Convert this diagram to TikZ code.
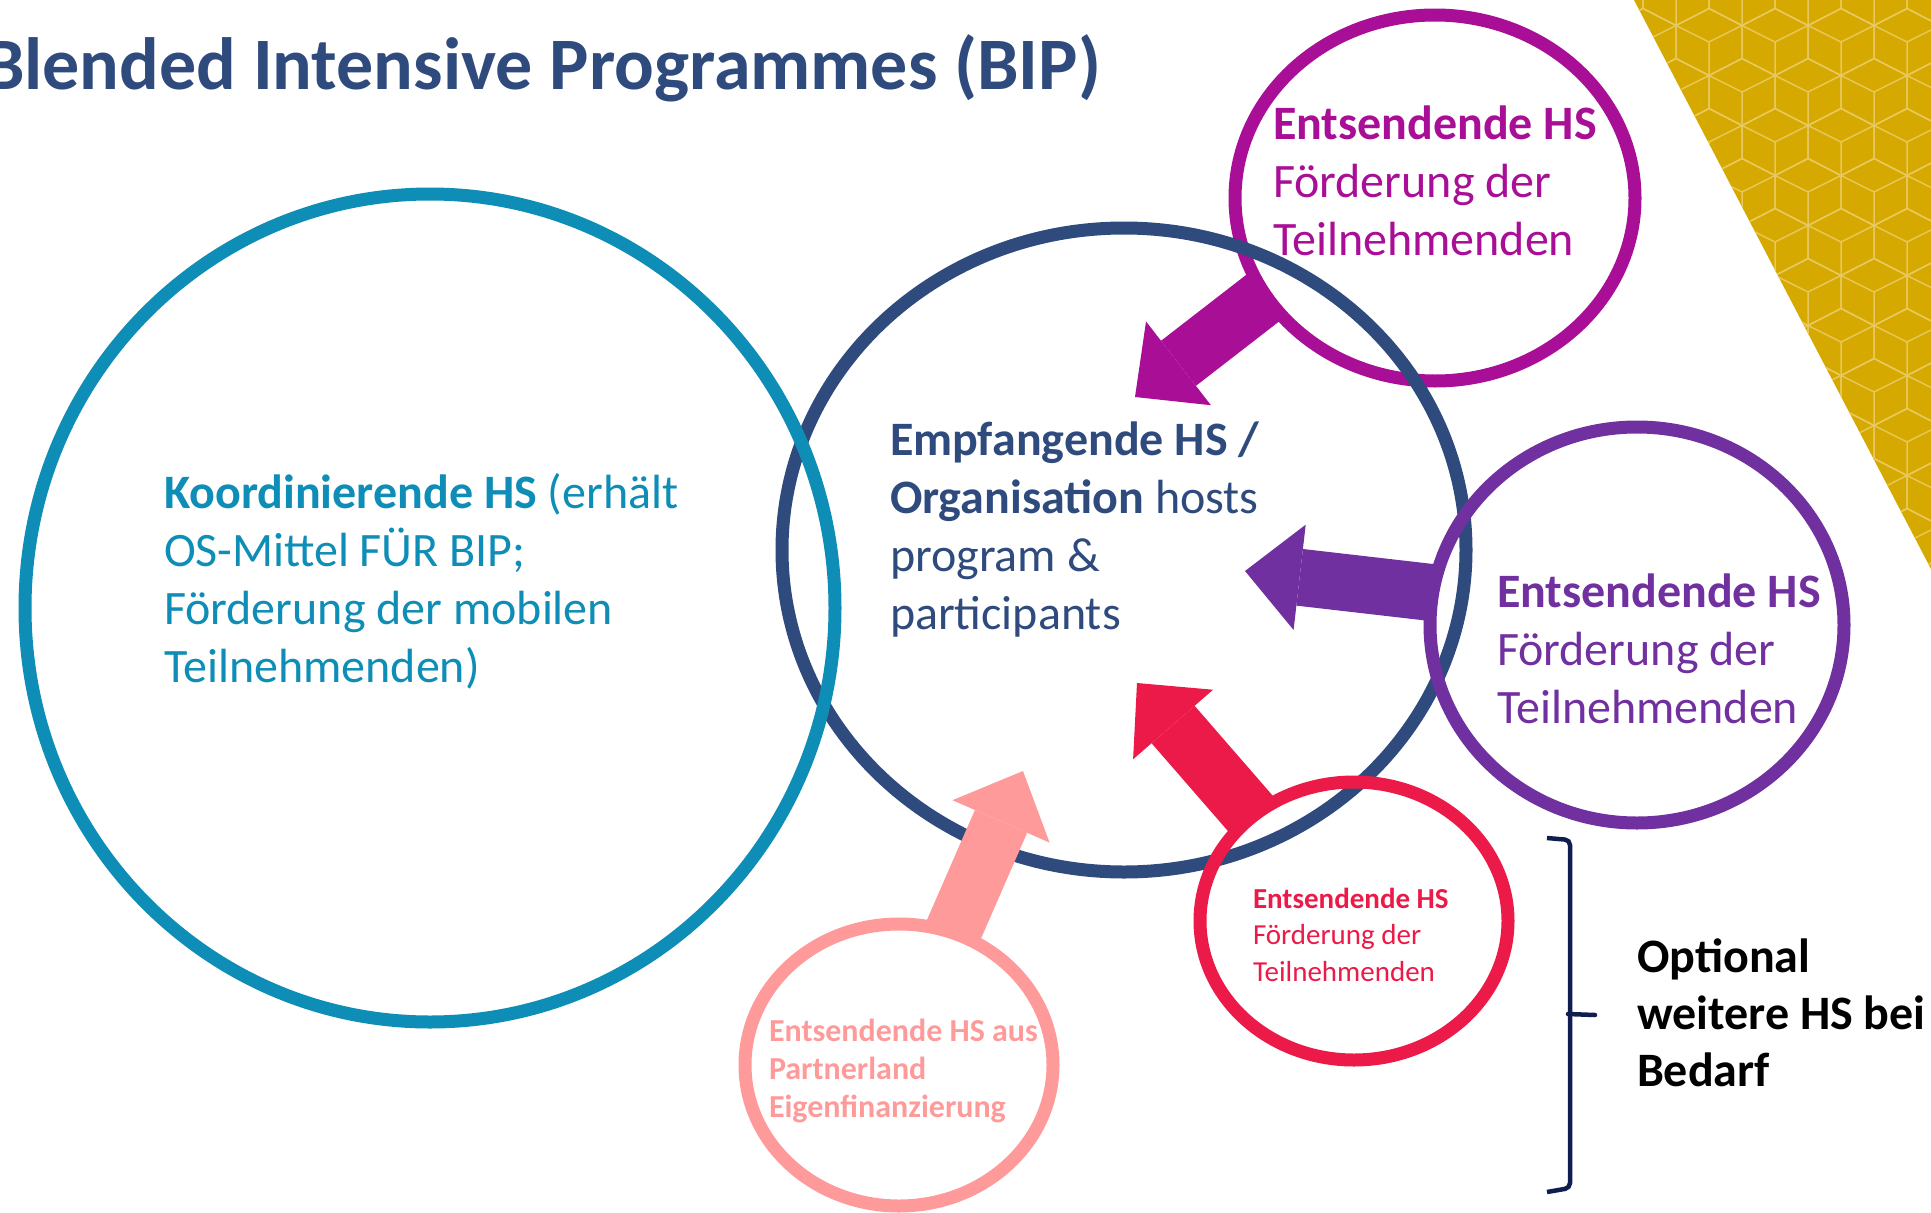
\documentclass[tikz,border=0pt]{standalone}
\usepackage{fontspec}
\setmainfont{Carlito}
\usetikzlibrary{positioning,arrows.meta,shapes.geometric}
\definecolor{hostblue}{HTML}{2F4B7D}
\definecolor{coordteal}{HTML}{0E8DB6}
\definecolor{sendmag}{HTML}{A90E96}
\definecolor{sendpur}{HTML}{7030A0}
\definecolor{sendred}{HTML}{EC1A48}
\definecolor{sendpink}{HTML}{FF9A9A}
\definecolor{bracenavy}{HTML}{0F1E4E}
\definecolor{gold}{HTML}{D6A900}
\definecolor{goldline}{HTML}{E8C75C}

\begin{document}
\begin{tikzpicture}[
  x=1pt, y=-1pt,
  every node/.style={inner sep=0pt, outer sep=0pt},
  ring/.style={ellipse, draw, line width=13pt},
  % multi-line nodes: base = baseline of the last line
  txt/.style={anchor=base west, align=left, font=\fontsize{48}{58}\selectfont},
  smalltxt/.style={anchor=base west, align=left, font=\fontsize{29}{36.5}\selectfont},
  bigarrow/.style={line width=57pt, -{Triangle[length=55pt, width=106pt, line width=0pt]}}
]
  \useasboundingbox (0,0) rectangle (1931,1213);

  % gold corner, cube pattern
  \begin{scope}
    \clip (1634,0) -- (1931,0) -- (1931,569) -- cycle;
    \fill[gold] (1634,0) rectangle (1931,569);
    \foreach \r in {0,...,12}
      \foreach \c in {0,...,5} {
        \pgfmathsetmacro\cx{1610+66*\c+33*mod(\r,2)}
        \pgfmathsetmacro\cy{50*\r-8}
        \draw[goldline, line width=1.5pt, shift={(\cx,\cy)}]
          (0,-33.5) -- (33,-16.5) -- (33,16.5) -- (0,33.5) -- (-33,16.5) -- (-33,-16.5) -- cycle
          (-33,-16.5) -- (0,0) -- (33,-16.5) (0,0) -- (0,33.5);
      }
  \end{scope}

  \node[txt, text=hostblue, font=\fontsize{74}{88}\selectfont\bfseries, anchor=base east] (title) at (1101,89) {Blended Intensive Programmes (BIP)};

  % rings
  \node[ring, draw=sendmag, minimum width=400pt, minimum height=366pt] (magring) at (1435,198) {};
  \node[ring, draw=hostblue, minimum width=684pt, minimum height=644pt] (hostring) at (1124,550) {};
  \node[ring, draw=coordteal, minimum width=810pt, minimum height=828pt] (coordring) at (430,608) {};
  \node[ring, draw=sendpur, minimum width=414pt, minimum height=396pt] (purring) at (1637,625) {};
  \node[ring, draw=sendred, minimum width=308pt, minimum height=278pt] (redring) at (1354,921) {};
  \node[ring, draw=sendpink, minimum width=308pt, minimum height=282pt] (pinkring) at (899,1065) {};

  % texts
  \node[txt, text=coordteal] (coordtxt) at (164,682) {\textbf{Koordinierende HS} (erhält\\OS-Mittel FÜR BIP;\\Förderung der mobilen\\Teilnehmenden)};
  \node[txt, text=hostblue] (hosttxt) at (890,629) {\textbf{Empfangende HS /}\\\textbf{Organisation} hosts\\program \&\\participants};
  \node[txt, text=sendmag] (magtxt) at (1273,255) {\textbf{Entsendende HS}\\Förderung der\\Teilnehmenden};
  \node[txt, text=sendpur] (purtxt) at (1497,723) {\textbf{Entsendende HS}\\Förderung der\\Teilnehmenden};
  \node[smalltxt, text=sendred] (redtxt) at (1253,981) {\textbf{Entsendende HS}\\Förderung der\\Teilnehmenden};
  \node[smalltxt, text=sendpink, font=\fontsize{32}{38}\selectfont\bfseries] (pinktxt) at (769,1117) {Entsendende HS aus\\Partnerland\\Eigenfinanzierung};
  \node[txt, font=\fontsize{48}{57}\selectfont\bfseries] (opttxt) at (1637,1086) {Optional\\weitere HS bei\\Bedarf};

  % arrows into the host
  \coordinate (magtip) at (1135,397);
  \coordinate (purtip) at (1245,571);
  \coordinate (redtip) at (1137,683);
  \coordinate (pinktip) at (1023,771);
  \draw[bigarrow, sendmag] (magring.210) -- (magtip);
  \draw[bigarrow, sendpur] (purring.171) -- (purtip);
  \draw[bigarrow, sendred] (redring.134) -- (redtip);
  \draw[bigarrow, sendpink] (pinkring.68) -- (pinktip);

  % brace
  \draw[bracenavy, line width=4.5pt, rounded corners=5pt] (1547,838) -- (1570,840) -- (1570,1188) -- (1547,1192);
  \draw[bracenavy, line width=4.5pt, line cap=round] (1568,1014) -- (1595,1015);
\end{tikzpicture}
\end{document}
